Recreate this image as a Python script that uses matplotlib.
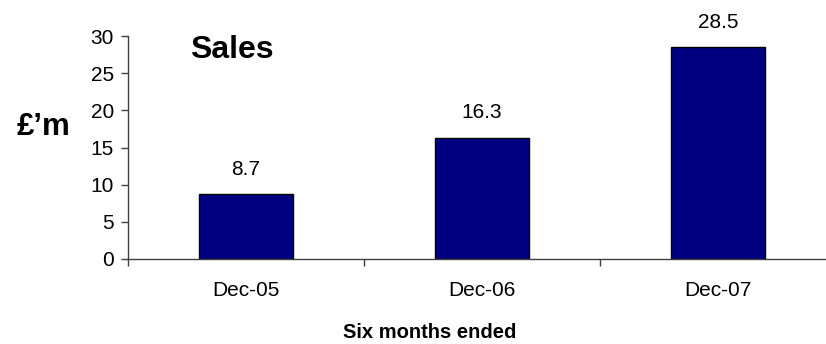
import matplotlib.pyplot as plt
import numpy as np

plt.rcParams['font.family'] = ['Liberation Sans', 'DejaVu Sans']

periods = ['Dec-05', 'Dec-06', 'Dec-07']
sales = [8.7, 16.3, 28.5]
y_ticks = [0, 5, 10, 15, 20, 25, 30]

W, H = 826, 344
fig = plt.figure(figsize=(W / 100, H / 100), dpi=100)
# plot area runs a little past the right edge, as in the source image
ax = fig.add_axes([128 / W, (H - 259) / H, 708 / W, 223 / H])

x = np.arange(len(periods))
bars = ax.bar(x, sales, width=0.40, color='#000080', edgecolor='black', linewidth=1)

for xi, v in zip(x, sales):
    ax.annotate(f'{v}', (xi, v), xytext=(0, 18), textcoords='offset points',
                ha='center', va='center', fontsize=15)

ax.set_xlim(-0.5, 2.5)
ax.set_ylim(0, 30)
ax.set_yticks(y_ticks)
ax.tick_params(axis='y', labelsize=15, length=5, width=1, color='#404040', pad=5)

ax.set_xticks(x)
ax.set_xticklabels(periods, fontsize=15)
ax.tick_params(axis='x', which='major', length=0, pad=16)
ax.set_xticks([-0.5, 0.5, 1.5, 2.5], minor=True)
ax.tick_params(axis='x', which='minor', length=5, width=1, color='#404040', direction='out')

for s in ['top', 'right']:
    ax.spines[s].set_visible(False)
for s in ['left', 'bottom']:
    ax.spines[s].set_color('#404040')
    ax.spines[s].set_linewidth(1)

fig.text(190 / W, 1 - 50 / H, 'Sales', fontsize=23, fontweight='bold', ha='left', va='center')
fig.text(17 / W, 1 - 127 / H, '£’m', fontsize=22.5, fontweight='bold', ha='left', va='center')
fig.text(430 / W, 1 - 333 / H, 'Six months ended', fontsize=14.5, fontweight='bold',
         ha='center', va='center')

plt.savefig('out.png', dpi=100)
